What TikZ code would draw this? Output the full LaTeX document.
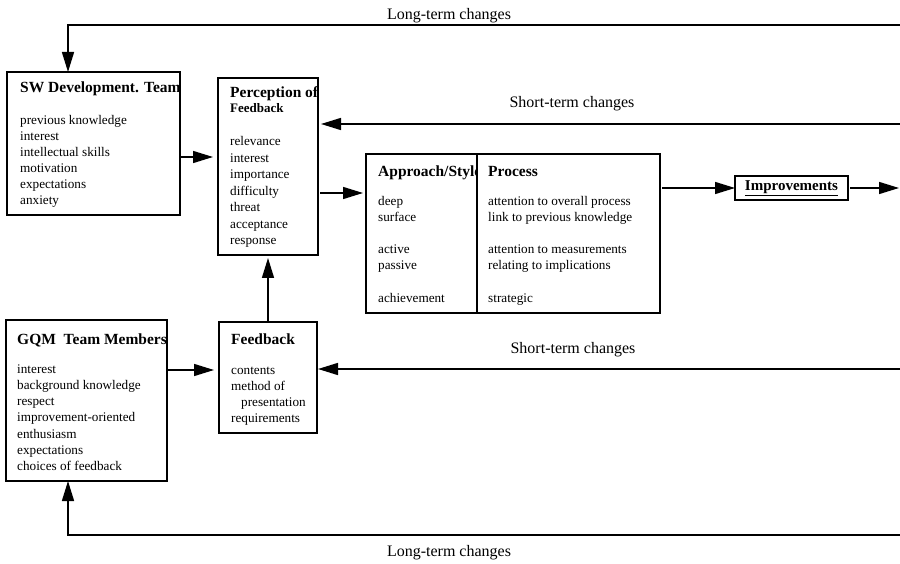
\documentclass[tikz,border=0pt]{standalone}
\usepackage{fontspec}
\setmainfont{Liberation Serif}
\usetikzlibrary{arrows.meta,calc}

\tikzset{
  box/.style={draw, line width=1.5pt, anchor=north west, inner sep=0pt, outer sep=0pt},
  item/.style={anchor=base west, inner sep=0pt, font=\fontsize{13.2}{16}\selectfont},
  title/.style={anchor=base west, inner sep=0pt, font=\fontsize{15.5}{18}\selectfont\bfseries},
  subtitle/.style={anchor=base west, inner sep=0pt, font=\fontsize{13}{16}\selectfont\bfseries},
  lbl/.style={anchor=base, inner sep=0pt, font=\fontsize{16}{19}\selectfont},
  conn/.style={line width=1.5pt, -{Triangle[length=20pt,width=12pt]}}
}

\begin{document}
\begin{tikzpicture}[x=1pt, y=-1pt]
  \useasboundingbox (0,0) rectangle (900,564);

  % ---- boxes ----
  \node[box, minimum width=173pt, minimum height=143pt] (sw) at (7,72) {};
  \node[box, minimum width=100pt, minimum height=177pt] (perc) at (218,78) {};
  \node[box, minimum width=111pt, minimum height=159pt] (app) at (366,154) {};
  \node[box, minimum width=183pt, minimum height=159pt] (proc) at (477,154) {};
  \node[box, minimum width=161pt, minimum height=161pt] (gqm) at (6,320) {};
  \node[box, minimum width=98pt, minimum height=111pt] (fb) at (219,322) {};
  \node[box, minimum width=113pt, minimum height=24pt,
        font=\fontsize{15}{18}\selectfont\bfseries] (imp) at (735,176)
        {\underline{Improvements}};

  % ---- box contents (clipped at the borders) ----
  \begin{scope}
    \clip (sw.north west) rectangle (sw.south east);
    \node[title] (swT) at (20,93) {SW Development. Team};
    \foreach \t [count=\i] in {previous knowledge, interest, intellectual skills,
        motivation, expectations, anxiety}
      \node[item, name=sw\i] at (20,{109+16*\i}) {\t};
  \end{scope}

  \begin{scope}
    \clip (perc.north west) rectangle (perc.south east);
    \node[title] (percT) at (230,98) {Perception of};
    \node[subtitle] (percT2) at (230,113) {Feedback};
    \foreach \t [count=\i] in {relevance, interest, importance, difficulty,
        threat, acceptance, response}
      \node[item, name=perc\i] at (230,{129.5+16.5*\i}) {\t};
  \end{scope}

  \begin{scope}
    \clip (app.north west) rectangle (app.south east);
    \node[title] (appT) at (378,177) {Approach/Style};
    \foreach \t/\y [count=\i] in {deep/206, surface/222, active/254,
        passive/270, achievement/302}
      \node[item, name=app\i] at (378,\y) {\t};
  \end{scope}

  \begin{scope}
    \clip (proc.north west) rectangle (proc.south east);
    \node[title] (procT) at (488,177) {Process};
    \foreach \t/\y [count=\i] in {attention to overall process/206,
        link to previous knowledge/222, attention to measurements/254,
        relating to implications/270, strategic/302}
      \node[item, name=proc\i] at (488,\y) {\t};
  \end{scope}

  \begin{scope}
    \clip (gqm.north west) rectangle (gqm.south east);
    \node[title] (gqmT) at (17,344) {GQM\ \ Team Members};
    \foreach \t [count=\i] in {interest, background knowledge, respect,
        improvement-oriented, enthusiasm, expectations, choices of feedback}
      \node[item, name=gqm\i] at (17,{357+16.2*\i}) {\t};
  \end{scope}

  \begin{scope}
    \clip (fb.north west) rectangle (fb.south east);
    \node[title] (fbT) at (231,344) {Feedback};
    \node[item] (fb1) at (231,374) {contents};
    \node[item] (fb2) at (231,390) {method of};
    \node[item] (fb3) at (241,406) {presentation};
    \node[item] (fb4) at (231,422) {requirements};
  \end{scope}

  % ---- reference levels and free ends ----
  \coordinate (ltTopR) at (900,25);
  \coordinate (ltTopL) at (68,25);
  \coordinate (ltBotR) at (900,535);
  \coordinate (ltBotL) at (68,535);
  \coordinate (stTop)  at (900,124);
  \coordinate (stBot)  at (900,369);
  \coordinate (ySW)    at (0,157);
  \coordinate (yApp)   at (0,193);
  \coordinate (yGqm)   at (0,370);
  \coordinate (outR)   at (899,188);

  % ---- connectors ----
  \draw[conn] (ltTopR) -- (ltTopL) -- (ltTopL |- sw.north);
  \draw[conn] (ltBotR) -- (ltBotL) -- (ltBotL |- gqm.south);
  \draw[conn, shorten >=3pt] (stTop) -- (stTop -| perc.east);
  \draw[conn, shorten >=1pt] (stBot) -- (stBot -| fb.east);
  \draw[conn, shorten >=5pt] (sw.east |- ySW) -- (perc.west |- ySW);
  \draw[conn, shorten >=3pt, shorten <=2pt] (perc.east |- yApp) -- (app.west |- yApp);
  \draw[conn, shorten >=5pt] (gqm.east |- yGqm) -- (fb.west |- yGqm);
  \draw[conn, shorten >=3pt] (fb.north) -- (perc.south);
  \draw[conn, shorten <=2pt] (proc.east |- imp.west) -- (imp.west);
  \draw[conn, shorten <=2pt] (imp.east) -- (outR);

  % ---- labels ----
  \node[lbl] (ltTopLbl) at (449,20) {Long-term changes};
  \node[lbl] (stTopLbl) at (572,108) {Short-term changes};
  \node[lbl] (stBotLbl) at (573,353) {Short-term changes};
  \node[lbl] (ltBotLbl) at (449,556) {Long-term changes};
\end{tikzpicture}
\end{document}
